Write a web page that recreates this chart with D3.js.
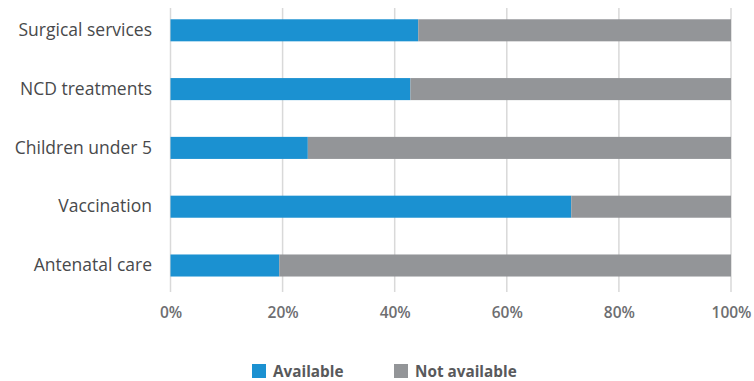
<!DOCTYPE html>
<html>
<head>
<meta charset="utf-8">
<script src="https://cdn.jsdelivr.net/npm/d3@7"></script>
<style>
  html, body { margin: 0; padding: 0; background: #fff; }
  svg { display: block; }
  text { font-family: "Open Sans", "Noto Sans", sans-serif; }
</style>
</head>
<body>
<svg id="chart" width="754" height="381"></svg>
<script>
// Share of facilities offering each service
const categories = ["Surgical services", "NCD treatments", "Children under 5", "Vaccination", "Antenatal care"];
const available = [44.2, 42.8, 24.5, 71.5, 19.4];
const notAvailable = available.map(v => 100 - v);
const tickValues = [0, 20, 40, 60, 80, 100];
const seriesNames = ["Available", "Not available"];
const seriesColors = ["#1b91d1", "#939598"];

const svg = d3.select("#chart");
const x = d3.scaleLinear().domain([0, 100]).range([170.5, 731]);
const y = d3.scaleBand().domain(categories).range([0.9, 294.9])
  .paddingInner(0.625).paddingOuter(0.3125);

// vertical gridlines
svg.append("g").selectAll("line").data(tickValues).join("line")
  .attr("x1", d => x(d)).attr("x2", d => x(d))
  .attr("y1", 8).attr("y2", 292)
  .attr("stroke", "#d9d9d9").attr("stroke-width", 1.5);

// stacked bars
const rows = categories.map((c, i) => ({ c, a: available[i], n: notAvailable[i] }));
const bars = svg.append("g");
bars.selectAll("rect.avail").data(rows).join("rect")
  .attr("class", "avail")
  .attr("x", x(0)).attr("y", d => y(d.c))
  .attr("width", d => x(d.a) - x(0)).attr("height", y.bandwidth())
  .attr("fill", seriesColors[0]);
bars.selectAll("rect.notavail").data(rows).join("rect")
  .attr("class", "notavail")
  .attr("x", d => x(d.a)).attr("y", d => y(d.c))
  .attr("width", d => x(d.a + d.n) - x(d.a)).attr("height", y.bandwidth())
  .attr("fill", seriesColors[1]);

// category labels
const yAxis = d3.axisLeft(y).tickSize(0).tickPadding(0);
const yg = svg.append("g").attr("transform", "translate(152,0)").call(yAxis);
yg.select(".domain").remove();
yg.selectAll("text")
  .attr("font-size", 17.5).attr("font-weight", 500).attr("fill", "#48494b")
  .style("font-family", "'Open Sans', 'Noto Sans', sans-serif");

// percentage axis
const xAxis = d3.axisBottom(x).tickValues(tickValues).tickFormat(d => d + "%").tickSize(0).tickPadding(0);
const xg = svg.append("g").attr("transform", "translate(0,318)").call(xAxis);
xg.select(".domain").remove();
xg.selectAll("text")
  .attr("font-size", 15.5).attr("font-weight", 600).attr("fill", "#6d6e71")
  .attr("dy", 0)
  .style("font-family", "'Open Sans', 'Noto Sans', sans-serif");

// legend
const legendX = [252, 394];
const lg = svg.append("g");
seriesNames.forEach((name, i) => {
  lg.append("rect").attr("x", legendX[i]).attr("y", 364).attr("width", 14).attr("height", 14)
    .attr("fill", seriesColors[i]);
  lg.append("text").attr("x", legendX[i] + 21).attr("y", 377)
    .attr("font-size", 15.3).attr("font-weight", 700).attr("fill", "#58595b")
    .text(name);
});
</script>
</body>
</html>
